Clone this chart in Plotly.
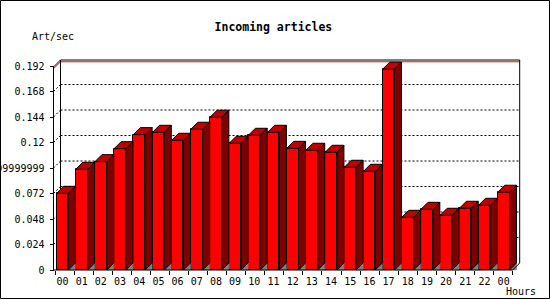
import plotly.graph_objects as go

# ---------------- data ----------------
hours = ["00", "01", "02", "03", "04", "05", "06", "07", "08", "09", "10", "11",
         "12", "13", "14", "15", "16", "17", "18", "19", "20", "21", "22", "00"]
rate = [0.0722, 0.0948, 0.1020, 0.1142, 0.1274, 0.1296, 0.1221, 0.1325,
        0.1438, 0.1193, 0.1268, 0.1296, 0.1145, 0.1127, 0.1108, 0.0967,
        0.0929, 0.1890, 0.0496, 0.0571, 0.0515, 0.0581, 0.0609, 0.0732]
y_ticks = [0, 0.024, 0.048, 0.072, 0.096, 0.12, 0.144, 0.168, 0.192]
y_tick_text = ["0", "0.024", "0.048", "0.072", "0.0959999999999999",
               "0.12", "0.144", "0.168", "0.192"]
max_line = 0.1894

# ---------------- geometry helpers ----------------
W, H = 550, 300
PX_X, PX_Y = 19.18, 1062.5      # pixels per category / per unit
X0PX, Y0PX = 62.5, 270.0


def ux(px):
    return (px - X0PX) / PX_X


def uy(py):
    return (Y0PX - py) / PX_Y


DX, DY = 7 / PX_X, 7 / PX_Y     # 3D depth
BW = 0.615                      # bar front width
xs = list(range(len(hours)))

xa = ux(53.5)      # front left axis
xe = ux(512.7)     # front right end of x axis
ytop = uy(67)      # top of front axis

FONT = "DejaVu Sans Mono"

fig = go.Figure()

# front faces
fig.add_trace(go.Bar(x=xs, y=rate, width=BW, marker=dict(color="#ff0000",
              line=dict(color="black", width=1)), xaxis="x", yaxis="y",
              hoverinfo="skip"))

# side faces, top faces, floor shadows
sx, sy, tx, ty, gx, gy = [], [], [], [], [], []
for x, v in zip(xs, rate):
    xl, xr = x - BW / 2, x + BW / 2
    sx += [xr, xr + DX, xr + DX, xr, xr, None]
    sy += [0, DY, v + DY, v, 0, None]
    tx += [xl, xl + DX, xr + DX, xr, xl, None]
    ty += [v, v + DY, v + DY, v, v, None]
    gx += [xr, xr + DX, xr + DX, xr, None]
    gy += [0, 0, DY, 0, None]

fig.add_trace(go.Scatter(x=gx, y=gy, fill="toself", fillcolor="#808080",
              mode="lines", line=dict(color="#808080", width=0.5),
              xaxis="x2", yaxis="y", hoverinfo="skip"))
fig.add_trace(go.Scatter(x=sx, y=sy, fill="toself", fillcolor="#800000",
              mode="lines", line=dict(color="black", width=1),
              xaxis="x2", yaxis="y", hoverinfo="skip"))
fig.add_trace(go.Scatter(x=tx, y=ty, fill="toself", fillcolor="#c00000",
              mode="lines", line=dict(color="black", width=1),
              xaxis="x2", yaxis="y", hoverinfo="skip"))

shapes = []
# dotted grid lines on back wall + diagonals
for v in y_ticks[1:-1]:
    shapes.append(dict(type="line", xref="x", yref="y", x0=xa + DX, x1=xe + DX,
                       y0=v + DY, y1=v + DY, layer="below",
                       line=dict(color="black", width=1, dash="2px,2px")))
    shapes.append(dict(type="line", xref="x", yref="y", x0=xa, x1=xa + DX,
                       y0=v, y1=v + DY, layer="below",
                       line=dict(color="black", width=1, dash="2px,2px")))
# red max line
shapes.append(dict(type="path", xref="x", yref="y", layer="below",
                   path=f"M{xa},{max_line} L{xa + DX},{max_line + DY} L{xe + DX},{max_line + DY}",
                   line=dict(color="red", width=1)))
# back frame
shapes.append(dict(type="path", xref="x", yref="y", layer="below",
                   path=f"M{xa + DX},{DY} L{xa + DX},{ytop + DY} L{xe + DX},{ytop + DY} L{xe + DX},{DY}",
                   line=dict(color="black", width=1)))
# front axes
shapes.append(dict(type="path", xref="x", yref="y", layer="above",
                   path=f"M{xa + DX},{ytop + DY} L{xa},{ytop} L{xa},0 L{xe},0 L{xe + DX},{DY}",
                   line=dict(color="black", width=1)))
# outer border
shapes.append(dict(type="rect", xref="paper", yref="paper",
                   x0=0.5 / W, x1=549.5 / W, y0=1 - 298.5 / H, y1=1 - 0.5 / H,
                   line=dict(color="black", width=1)))

bounds = [ux(55) + k * (ux(512.7) - ux(55)) / 24 for k in range(25)]

xr_range = [ux(50), ux(525)]
fig.update_layout(
    template="none",
    width=W, height=H,
    margin=dict(l=0, r=0, t=0, b=0, pad=0),
    paper_bgcolor="white", plot_bgcolor="white",
    showlegend=False,
    bargap=0,
    shapes=shapes,
    title=dict(text="Incoming articles", x=273.4 / W, xanchor="center",
               y=1 - 26.7 / H, yanchor="middle", xref="paper", yref="paper",
               font=dict(family=FONT, size=11.5, color="black", weight="bold")),
    xaxis=dict(domain=[50 / W, 525 / W], range=xr_range, anchor="free",
               position=1 - 270 / H, tickmode="array", tickvals=xs,
               ticktext=hours, ticks="", ticklabelstandoff=4, showline=False,
               showgrid=False, zeroline=False,
               tickfont=dict(family=FONT, size=10, color="black")),
    xaxis2=dict(domain=[50 / W, 525 / W], range=xr_range, anchor="free",
                overlaying="x", position=1 - 270 / H, tickmode="array",
                tickvals=bounds, ticks="outside", ticklen=4, tickcolor="black",
                tickwidth=1, showticklabels=False, showline=False,
                showgrid=False, zeroline=False),
    yaxis=dict(domain=[1 - 272 / H, 1 - 57 / H], range=[uy(272), uy(57)],
               anchor="free", position=53.5 / W, tickmode="array",
               tickvals=y_ticks, ticktext=y_tick_text, ticks="outside",
               ticklen=4, tickcolor="black", tickwidth=1, ticklabelstandoff=3,
               showline=False, showgrid=False, zeroline=False,
               tickfont=dict(family=FONT, size=10, color="black")),
    annotations=[
        dict(text="Art/sec", x=30 / W, y=1 - 36.7 / H, xref="paper", yref="paper",
             xanchor="left", yanchor="middle", showarrow=False,
             font=dict(family=FONT, size=10, color="black")),
        dict(text="Hours", x=504 / W, y=1 - 291.7 / H, xref="paper", yref="paper",
             xanchor="left", yanchor="middle", showarrow=False,
             font=dict(family=FONT, size=10, color="black")),
    ],
)

fig.write_html("out.html")
